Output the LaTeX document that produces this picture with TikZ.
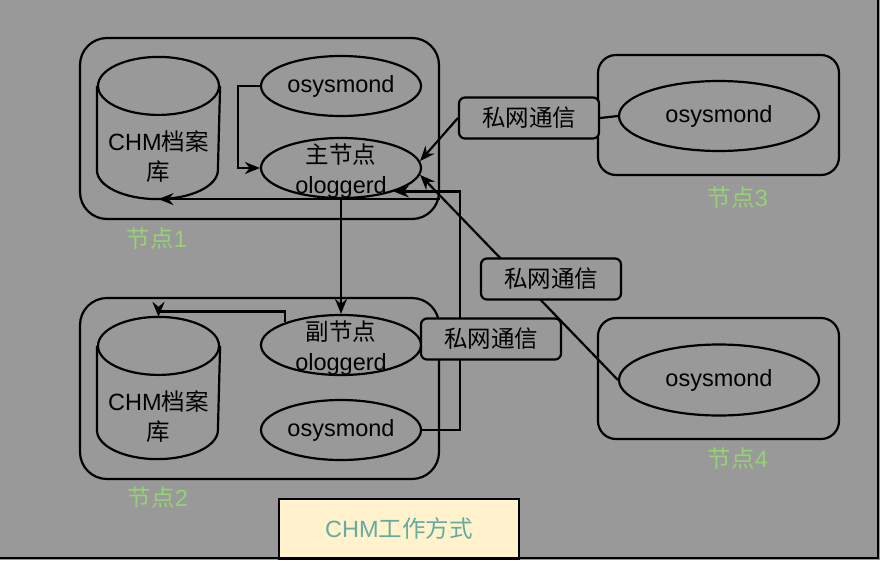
\documentclass[tikz,border=0pt]{standalone}
\usepackage{fontspec}
\setmainfont{Liberation Sans}
\newfontfamily\cjk{Noto Sans CJK SC}
\usetikzlibrary{arrows.meta,shapes.geometric}
\definecolor{panel}{HTML}{999999}
\definecolor{hostgreen}{HTML}{97D077}
\definecolor{notefill}{HTML}{FFF2CC}
\definecolor{noteteal}{HTML}{67AB9F}
\pgfdeclarelayer{bg}
\pgfdeclarelayer{edges}
\pgfsetlayers{bg,edges,main}
\newcommand\zh[1]{{\cjk #1}}
% outline of an archive cylinder round a node
\newcommand\dbshape[1]{%
  \draw ([yshift=-29pt]#1.north) ellipse [x radius=60.5pt, y radius=29pt];
  \draw ([yshift=-29pt]#1.north west) -- ([yshift=29pt]#1.south west)
    arc [start angle=180, end angle=360, x radius=60.5pt, y radius=29pt]
    -- ([yshift=-29pt]#1.north east);}

\tikzset{
  every path/.append style={line width=2.2pt},
  host/.style={draw, rounded corners=27pt, minimum width=359pt, minimum height=181pt, inner sep=0pt},
  smallhost/.style={host, rounded corners=18pt, minimum width=241pt, minimum height=120pt},
  proc/.style={draw, ellipse, minimum width=160pt, minimum height=60pt, inner sep=0pt},
  bigproc/.style={proc, minimum width=200pt, minimum height=70pt},
  db/.style={minimum width=121pt, minimum height=140pt, inner sep=0pt},
  net/.style={draw, fill=panel, rounded corners=6pt, minimum width=140pt, minimum height=41pt, inner sep=0pt},
  hostname/.style={text=hostgreen},
}

\begin{document}
\begin{tikzpicture}[x=1pt, y=-1pt, >={Stealth[length=15pt,width=12pt]},
    font=\fontsize{23.5pt}{30pt}\selectfont]
  \useasboundingbox (0,0) rectangle (880,560);
  \begin{pgfonlayer}{bg}
    \fill[panel] (0,0) rectangle (880,560);
  \end{pgfonlayer}

  % Hosts
  \node[host] (box1) at (259.5,128.5) {};
  \node[host] (box2) at (259.5,388.5) {};
  \node[smallhost] (box3) at (718.5,115) {};
  \node[smallhost, minimum height=121pt] (box4) at (718.5,378.5) {};
  \node[hostname] (name1) at (157,239) {\zh{节点}1};
  \node[hostname] (name2) at (158,498) {\zh{节点}2};
  \node[hostname] (name3) at (738,198) {\zh{节点}3};
  \node[hostname] (name4) at (738,459) {\zh{节点}4};

  % Archives
  \node[db, label={[align=center, yshift=-29pt]center:{CHM\zh{档案}\\\zh{库}}}] (db1) at (158.5,128) {};
  \node[db, label={[align=center, yshift=-29pt]center:{CHM\zh{档案}\\\zh{库}}}] (db2) at (158.5,388) {};
  \dbshape{db1}
  \dbshape{db2}

  % Daemons
  \node[proc] (osys1) at (341,86) {osysmond};
  \node[proc, label={[align=center, yshift=-3pt]center:{\zh{主节点}\\ologgerd}}] (olog1) at (341,168) {};
  \node[proc, label={[align=center, yshift=-3pt]center:{\zh{副节点}\\ologgerd}}] (olog2) at (341,345) {};
  \node[proc] (osys2) at (341,430) {osysmond};
  \node[bigproc] (osys3) at (719,116) {osysmond};
  \node[bigproc, minimum height=71pt] (osys4) at (719,380) {osysmond};

  % Private network
  \node[net] (net1) at (529,118) {\zh{私网通信}};
  \node[net] (net2) at (551,279) {\zh{私网通信}};
  \node[net] (net3) at (491,339) {\zh{私网通信}};

  \begin{pgfonlayer}{edges}
    % inside node 1
    \draw[->] (osys1.west) -- ++(-22,0) |- (olog1.west);
    \draw[->] (box1.east |- olog1.south) -- (db1.south);
    % node 1 to node 2
    \draw[->] (olog1.south) -- (olog2.north);
    \draw[->] (olog2.158) -- ++(0,-11) -| (db2.north);
    \draw[->] (osys2.east) -- ++(38,0) |- (olog1.-24);
    % node 3 and node 4
    \draw (osys3.west) -- (net1.east);
    \draw[->] (net1.west) -- (olog1.5);
    \draw[->] (osys4.west) -- (olog1.-5);
  \end{pgfonlayer}

  % Caption
  \node[draw, fill=notefill, text=noteteal, minimum width=240pt, minimum height=60pt] (title) at (399,529) {CHM\zh{工作方式}};

  % Frame
  \draw[line width=2.5pt] (878,0) -- (878,558) -- (0,558);
\end{tikzpicture}
\end{document}
